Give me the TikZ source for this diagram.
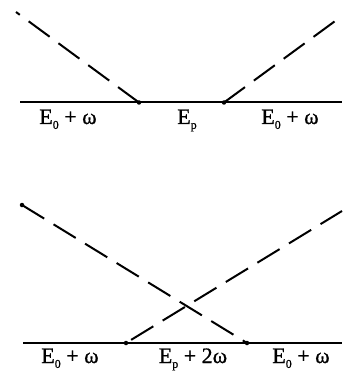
\documentclass[tikz,border=0pt]{standalone}
\usepackage{fontspec}
\setmainfont{Liberation Serif}
\newfontfamily\lblfont{Liberation Serif}[FakeBold=0.9]
\newcommand{\sbs}[1]{\raisebox{-0.22em}{\fontsize{12}{12}\selectfont #1}}
\begin{document}
\begin{tikzpicture}[x=1pt,y=-1pt,
  level/.style={line width=2pt},
  trans/.style={line width=2pt, dash pattern=on 26pt off 11pt},
  lbl/.style={font=\lblfont\fontsize{22}{22}\selectfont, inner sep=0pt, anchor=base},
  pt/.style={circle, fill=black, inner sep=0pt, minimum size=4.5pt}]
\useasboundingbox (0,0) rectangle (342,371);
% top diagram
\coordinate (tl) at (20,102.5);
\coordinate (tr) at (342,102.5);
\node[pt] (ta) at (139,102.5) {};
\node[pt] (tb) at (224,102.5) {};
\coordinate (tls) at (16,12);
\coordinate (tre) at (342,16);
\draw[level] (tl) -- (tr);
\draw[trans] (ta.center) -- (tls);
\draw[trans] (tb.center) -- (tre);
\node[lbl] (t1) at (68,124) {E\sbs{0}\hspace{0.25em}+\hspace{0.25em}ω};
\node[lbl] (t2) at (187,124) {E\sbs{p}};
\node[lbl] (t3) at (290,124) {E\sbs{0}\hspace{0.25em}+\hspace{0.25em}ω};
% bottom diagram
\coordinate (bl) at (23,343);
\coordinate (br) at (342,343);
\node[pt] (ba) at (126,343) {};
\node[pt] (bb) at (247,343) {};
\node[pt] (bs) at (22,205) {};
\coordinate (bre) at (342,211);
\draw[level] (bl) -- (br);
\draw[trans] (bs.center) -- (bb.center);
\draw[trans, dash phase=-6pt] (ba.center) -- (bre);
\node[lbl] (b1) at (70,363) {E\sbs{0}\hspace{0.25em}+\hspace{0.25em}ω};
\node[lbl] (b2) at (193,363) {E\sbs{p}\hspace{0.25em}+\hspace{0.25em}2ω};
\node[lbl] (b3) at (301,363) {E\sbs{0}\hspace{0.25em}+\hspace{0.25em}ω};
\end{tikzpicture}
\end{document}
